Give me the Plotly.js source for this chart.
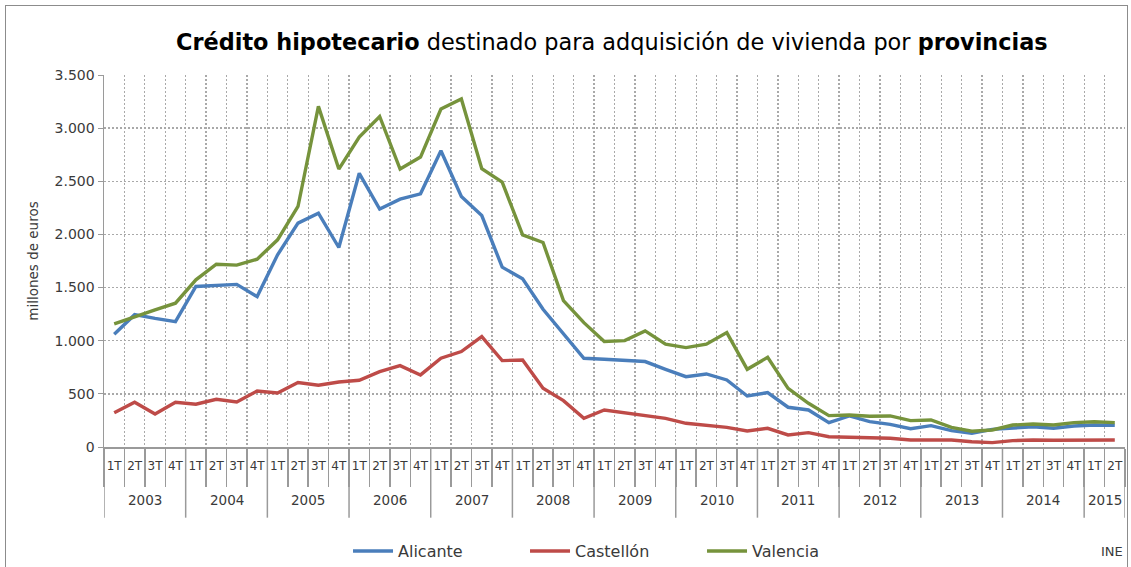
<!DOCTYPE html>
<html>
<head>
<meta charset="utf-8">
<script src="https://cdn.plot.ly/plotly-3.0.1.min.js"></script>
<style>
  html, body { margin: 0; padding: 0; background: #ffffff; }
  #frame { position: absolute; left: 5px; top: 5px; width: 1123px; height: 600px; border: 1px solid #8c8c8c; box-sizing: border-box; }
  #chart { position: absolute; left: 0; top: 0; width: 1131px; height: 567px; }
</style>
</head>
<body>
<div id="frame"></div>
<div id="chart"></div>
<script>
// ---- data (millones de euros) ----
const years = ['2003','2004','2005','2006','2007','2008','2009','2010','2011','2012','2013','2014','2015'];
const quarters = ['1T','2T','3T','4T'];

const alicante = [
  1060, 1245, 1210, 1180,
  1510, 1519, 1530, 1415,
  1808, 2106, 2200, 1877,
  2575, 2238, 2332, 2382,
  2787, 2357, 2178, 1692,
  1582, 1296, 1070, 835,
  826, 813, 804, 731,
  662, 687, 631, 480,
  512, 374, 348, 229,
  292, 238, 213, 172,
  201, 154, 130, 166,
  176, 191, 176, 198,
  207, 204
];
const castellon = [
  323, 421, 311, 421,
  402, 449, 424, 527,
  508, 606, 581, 612,
  628, 709, 766, 678,
  835, 898, 1039, 813,
  819, 552, 436, 270,
  348, 323, 292, 270,
  223, 207, 185, 151,
  176, 113, 135, 97,
  92, 82, 82, 66,
  66, 66, 50, 41,
  60, 66, 63, 63,
  63, 66
];
const valencia = [
  1158, 1227, 1290, 1353,
  1573, 1720, 1711, 1767,
  1949, 2263, 3205, 2615,
  2915, 3110, 2615, 2728,
  3180, 3274, 2618, 2492,
  1996, 1924, 1378, 1170,
  992, 1001, 1092, 967,
  935, 967, 1076, 731,
  844, 552, 411, 295,
  301, 289, 292, 248,
  254, 185, 148, 160,
  207, 216, 207, 229,
  238, 229
];

// ---- category helpers derived from the lists above ----
const n = alicante.length;
const idx = [], quarterCat = [], yearOf = [];
for (let i = 0; i < n; i++) {
  idx.push(i);
  quarterCat.push(quarters[i % 4]);
  yearOf.push(years[Math.floor(i / 4)]);
}
const boundaries = [];
for (let i = 0; i <= n; i++) boundaries.push(i - 0.5);

const yearCenters = [], yearEdges = [];
years.forEach(function (yr) {
  const members = idx.filter(function (i) { return yearOf[i] === yr; });
  if (!members.length) return;
  const first = members[0], last = members[members.length - 1];
  yearCenters.push({ label: yr, x: (first + last) / 2 });
  yearEdges.push(first - 0.5);
});
yearEdges.push(n - 0.5);

const FONT = 'DejaVu Sans, sans-serif';
const TXT = '#3a3a3a';
const GRID = '#a9a9a9';
const AXIS = '#9a9a9a';

function series(name, y, color) {
  return {
    type: 'scatter', mode: 'lines', name: name,
    x: idx, y: y,
    line: { color: color, width: 3.4 },
    hoverinfo: 'y+name'
  };
}

const data = [
  series('Alicante', alicante, '#4A7EBB'),
  series('Castellón', castellon, '#BE4B48'),
  series('Valencia', valencia, '#76933C')
];

const shapes = yearEdges.map(function (xv) {
  return {
    type: 'line', xref: 'x', yref: 'paper',
    x0: xv, x1: xv, y0: 0, y1: -0.19,
    line: { color: AXIS, width: 1.5 }
  };
});

const annotations = yearCenters.map(function (yc) {
  return {
    text: yc.label, xref: 'x', yref: 'paper', x: yc.x, y: -0.143,
    xanchor: 'center', yanchor: 'middle', showarrow: false,
    font: { family: FONT, size: 13.5, color: TXT }
  };
});
annotations.push({
  text: 'INE', xref: 'paper', yref: 'paper', x: 1.0, y: -0.28,
  xanchor: 'right', yanchor: 'middle', showarrow: false,
  font: { family: FONT, size: 13, color: TXT }
});

const layout = {
  width: 1131, height: 567,
  paper_bgcolor: 'rgba(0,0,0,0)', plot_bgcolor: 'rgba(0,0,0,0)',
  margin: { l: 104, r: 6, t: 75, b: 120, autoexpand: false },
  separators: ',.',
  font: { family: FONT, size: 13, color: TXT },
  title: {
    text: '<b>Crédito hipotecario</b> destinado para adquisición de vivienda por <b>provincias</b>',
    font: { family: FONT, size: 22.4, color: '#000000' },
    x: 0.541, xanchor: 'center', y: 0.926, yanchor: 'middle'
  },
  xaxis: {
    type: 'linear', automargin: false,
    range: [-0.5, n - 0.5],
    tickmode: 'array', tickvals: idx, ticktext: quarterCat,
    ticks: '', ticklabelstandoff: 7,
    showline: true, linecolor: AXIS, linewidth: 1.5,
    showgrid: false, zeroline: false,
    tickfont: { family: FONT, size: 12, color: TXT },
    tickangle: 0,
    minor: {
      tickmode: 'array', tickvals: boundaries,
      ticks: 'outside', ticklen: 38, tickcolor: AXIS, tickwidth: 1.5,
      showgrid: true, gridcolor: GRID, griddash: '2px,2px', gridwidth: 1.3
    }
  },
  yaxis: {
    automargin: false,
    range: [0, 3500], dtick: 500, tick0: 0,
    tickformat: ',d',
    ticks: 'outside', ticklen: 5, tickcolor: AXIS,
    showline: true, linecolor: AXIS, linewidth: 1.5,
    showgrid: true, gridcolor: GRID, griddash: '2px,2px', gridwidth: 1.3,
    zeroline: false,
    tickfont: { family: FONT, size: 14, color: TXT },
    title: { text: 'millones de euros', font: { family: FONT, size: 13.5, color: TXT }, standoff: 13 }
  },
  showlegend: true,
  legend: {
    orientation: 'h', x: 0.239, xanchor: 'left', y: -0.28, yanchor: 'middle',
    font: { family: FONT, size: 16, color: TXT },
    itemwidth: 40, entrywidth: 122, entrywidthmode: 'pixels'
  },
  shapes: shapes,
  annotations: annotations
};

Plotly.newPlot('chart', data, layout, { displayModeBar: false, staticPlot: true });
</script>
</body>
</html>
